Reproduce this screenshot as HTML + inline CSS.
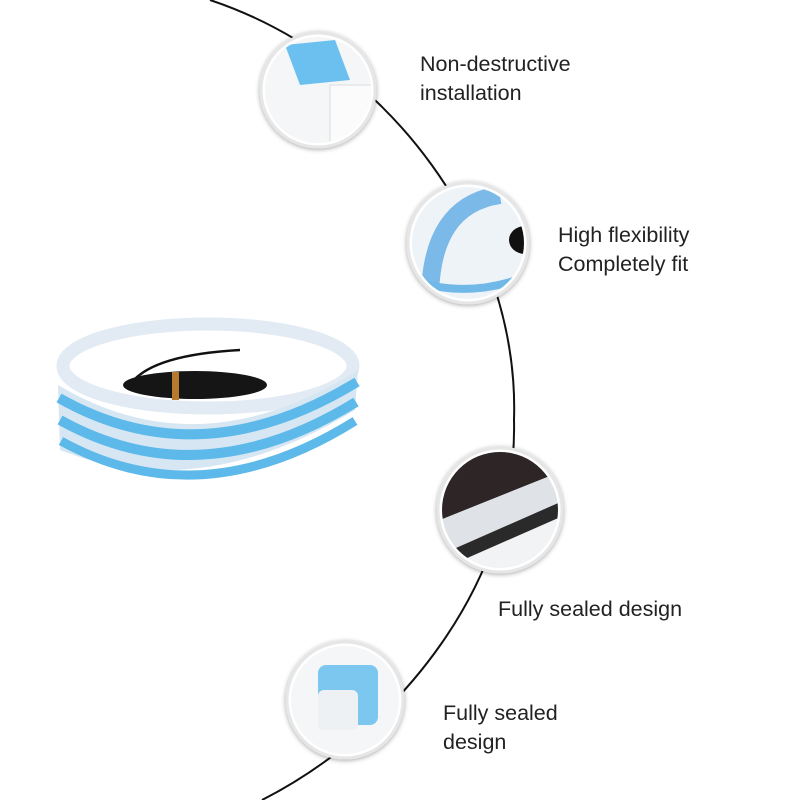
<!DOCTYPE html>
<html><head><meta charset="utf-8"><style>
body{margin:0;background:#fff;width:800px;height:800px;overflow:hidden;position:relative;font-family:"Liberation Sans",sans-serif}
.t{position:absolute;font-size:21.5px;color:#222;line-height:29px}
</style></head><body>
<svg width="800" height="800" style="position:absolute;left:0;top:0">
<defs>
<filter id="sh" x="-20%" y="-20%" width="140%" height="140%"><feDropShadow dx="0" dy="1" stdDeviation="2.5" flood-color="#000" flood-opacity="0.35"/></filter>
<clipPath id="c1"><circle cx="318" cy="90" r="53"/></clipPath>
<clipPath id="c2"><circle cx="468" cy="243" r="56"/></clipPath>
<clipPath id="c3"><circle cx="500" cy="510" r="58"/></clipPath>
<clipPath id="c4"><circle cx="345" cy="700" r="54"/></clipPath>
</defs>
<path d="M210,0 C390,60 520,240 514,420 C518,580 400,730 262,800" fill="none" stroke="#111" stroke-width="2"/>
<ellipse cx="208" cy="366" rx="145" ry="42" fill="none" stroke="#e2eaf3" stroke-width="13"/>
<path d="M58,385 Q200,470 358,370 L355,410 Q200,505 60,450 Z" fill="#d6e6f3"/>
<path d="M59,398 Q200,478 357,382" fill="none" stroke="#5cb9e9" stroke-width="10"/>
<path d="M60,420 Q200,498 356,402" fill="none" stroke="#5cb9e9" stroke-width="10"/>
<path d="M61,441 Q200,518 355,421" fill="none" stroke="#5cb9e9" stroke-width="9"/>
<path d="M130,385 Q150,355 240,350" fill="none" stroke="#111" stroke-width="2.5"/>
<ellipse cx="195" cy="385" rx="72" ry="14" fill="#151515"/>
<rect x="172" y="372" width="7" height="28" fill="#b57a2e"/>
<g filter="url(#sh)">
<circle cx="318" cy="90" r="57" fill="#fff" stroke="#e6e6e6" stroke-width="3"/>
<circle cx="468" cy="243" r="60" fill="#fff" stroke="#e6e6e6" stroke-width="3"/>
<circle cx="500" cy="510" r="62" fill="#fff" stroke="#e6e6e6" stroke-width="3"/>
<circle cx="345" cy="700" r="58" fill="#fff" stroke="#e6e6e6" stroke-width="3"/>
</g>
<g clip-path="url(#c1)">
<rect x="265" y="37" width="110" height="110" fill="#f4f6f8"/>
<path d="M285,45 L335,40 L350,80 L300,85 Z" fill="#6cc0ef"/>
<rect x="330" y="85" width="45" height="60" fill="#fbfbfb" stroke="#ddd"/>
</g>
<g clip-path="url(#c2)">
<rect x="410" y="185" width="120" height="120" fill="#eef3f8"/>
<path d="M430,300 Q430,205 500,195" fill="none" stroke="#7ab9e8" stroke-width="18"/>
<path d="M410,280 Q470,300 530,275" fill="none" stroke="#6fb8e8" stroke-width="8"/>
<ellipse cx="525" cy="240" rx="16" ry="14" fill="#111"/>
</g>
<g clip-path="url(#c3)">
<rect x="440" y="450" width="125" height="125" fill="#f2f3f5"/>
<path d="M440,450 L565,450 L565,470 L440,520 Z" fill="#2e2626"/>
<path d="M440,520 L565,470 L565,500 L440,555 Z" fill="#dfe3e7"/>
<path d="M440,555 L565,500 L565,515 L440,570 Z" fill="#2a2a2a"/>
</g>
<g clip-path="url(#c4)">
<rect x="290" y="645" width="115" height="115" fill="#f5f6f7"/>
<rect x="318" y="665" width="60" height="60" rx="8" fill="#7cc7f0"/>
<rect x="318" y="690" width="40" height="40" rx="6" fill="#eef1f4"/>
</g>
</svg>
<div class="t" style="left:420px;top:50px">Non-destructive<br>installation</div>
<div class="t" style="left:558px;top:221px">High flexibility<br>Completely fit</div>
<div class="t" style="left:498px;top:595px">Fully sealed design</div>
<div class="t" style="left:443px;top:699px">Fully sealed<br>design</div>
</body></html>
